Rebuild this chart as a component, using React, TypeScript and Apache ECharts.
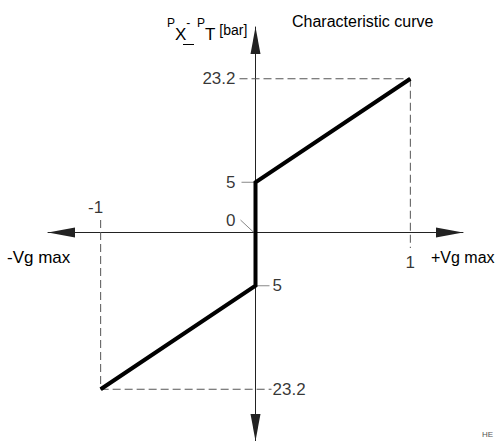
import React, { useEffect, useRef } from "react";
import * as echarts from "echarts";

// ---- data ----
const vgTicks = [-1, 1];
const vgTickLabels = ["-1", "1"];
// schematic (not to scale) pressure axis, bottom to top
const pressureLevels = ["", "-23.2", " ", "-5", "0", "5", "  ", "23.2", "   "];
const pressureTicks = ["23.2", "5", "0", "-5", "-23.2"];
const pressureTickLabels = ["23.2", "5", "0", "5", "23.2"];
const curveVg = [-1, 0, 0, 1];
const curveDp = ["-23.2", "-5", "5", "23.2"];
const vgRange = [-1.34, 1.34];

const FONT = '"Liberation Sans", Arial, Helvetica, sans-serif';
const W = 499;
const H = 441;
const GRID = { left: 48, right: 36, top: 27, bottom: -3 };

export default function App() {
  const ref = useRef<HTMLDivElement>(null);
  useEffect(() => {
    if (!ref.current) return;
    const chart = echarts.init(ref.current, null, { renderer: "svg" });
    const gridH = H - GRID.top - GRID.bottom;
    const axisLineCommon = {
      show: true,
      lineStyle: { color: "#222", width: 1 },
      symbol: ["triangle", "triangle"],
      symbolSize: [10, 27],
      symbolOffset: [13.5, -13.5],
    };

    const tickLabelData = pressureTicks.map((p, i) => {
      const v = parseFloat(p);
      return {
        value: [0, p],
        label: {
          formatter: pressureTickLabels[i],
          position: v < 0 ? "right" : "left",
          distance: v < 0 ? 17 : 20,
          offset: v === 0 ? [0, -14] : [0, 0],
        },
      };
    });
    const vgLabelData = vgTicks.map((x, i) => ({
      value: [x, "0"],
      label: {
        formatter: vgTickLabels[i],
        position: x < 0 ? "top" : "bottom",
        distance: x < 0 ? 18 : 20,
        offset: x < 0 ? [-5, 0] : [0, 0],
      },
    }));

    const txt = (text: string, x: number, y: number, size: number, fill = "#000") => ({
      type: "text",
      x,
      y,
      silent: true,
      style: {
        text,
        fill,
        fontSize: size,
        fontFamily: FONT,
        verticalAlign: "middle",
        align: "left",
      },
    });

    chart.setOption({
      animation: false,
      backgroundColor: "#fff",
      grid: { ...GRID, containLabel: false },
      xAxis: {
        type: "value",
        min: vgRange[0],
        max: vgRange[1],
        position: "bottom",
        offset: -gridH / 2,
        axisLine: { ...axisLineCommon, onZero: false },
        axisTick: { show: false },
        axisLabel: { show: false },
        splitLine: { show: false },
      },
      yAxis: {
        type: "category",
        data: pressureLevels,
        boundaryGap: false,
        axisLine: { ...axisLineCommon, onZero: true },
        axisTick: { show: false },
        axisLabel: { show: false },
        splitLine: { show: false },
      },
      series: [
        {
          type: "custom",
          silent: true,
          z: 1,
          data: [[0, "0"]],
          renderItem: (_params: any, api: any) => {
            const c = (x: any, y: any) => api.coord([x, y]);
            const o = c(0, "0");
            const topR = c(curveVg[3], curveDp[3]);
            const botL = c(curveVg[0], curveDp[0]);
            const up5 = c(curveVg[2], curveDp[2]);
            const dn5 = c(curveVg[1], curveDp[1]);
            const dash = { stroke: "#555", lineWidth: 1, lineDash: [8, 4], fill: "none" };
            const thin = { stroke: "#888", lineWidth: 1, fill: "none" };
            const ln = (x1: number, y1: number, x2: number, y2: number, style: any) => ({
              type: "line",
              shape: { x1, y1, x2, y2 },
              style,
            });
            return {
              type: "group",
              children: [
                ln(o[0] - 16, topR[1], topR[0], topR[1], dash),
                ln(topR[0], topR[1], topR[0], o[1] + 14, dash),
                ln(botL[0], botL[1], o[0] + 16, botL[1], dash),
                ln(botL[0], o[1] - 14, botL[0], botL[1], dash),
                ln(o[0] - 14, up5[1], o[0], up5[1], thin),
                ln(o[0], dn5[1], o[0] + 14, dn5[1], thin),
                ln(o[0] - 15, o[1] - 14, o[0], o[1], thin),
              ],
            };
          },
        },
        {
          type: "line",
          z: 5,
          symbol: "none",
          silent: true,
          lineStyle: { color: "#000", width: 4, join: "miter" },
          data: curveVg.map((x, i) => [x, curveDp[i]]),
        },
        {
          type: "scatter",
          z: 6,
          silent: true,
          symbolSize: 0,
          label: { show: true, color: "#000", fontSize: 17, fontFamily: FONT },
          data: [...tickLabelData, ...vgLabelData],
        },
      ],
      graphic: [
        txt("Characteristic curve", 292, 21, 16),
        txt("-Vg max", 7, 257, 17),
        txt("+Vg max", 431, 257, 16),
        {
          type: "text",
          x: 167,
          y: 30,
          silent: true,
          style: {
            text: "{s|P}{b|X}{s|-  P}{b|T}{m| [bar]}",
            fill: "#000",
            fontFamily: FONT,
            verticalAlign: "middle",
            align: "left",
            rich: {
              s: { fontSize: 12, lineHeight: 12, verticalAlign: "top", fontFamily: FONT, fill: "#000" },
              b: { fontSize: 17, lineHeight: 17, verticalAlign: "bottom", fontFamily: FONT, fill: "#000" },
              m: { fontSize: 14, lineHeight: 26, verticalAlign: "middle", fontFamily: FONT, fill: "#000" },
            },
          },
        },
        {
          type: "line",
          silent: true,
          shape: { x1: 183, y1: 44.5, x2: 194, y2: 44.5 },
          style: { stroke: "#000", lineWidth: 1 },
        },
        txt("HE", 482, 434, 8, "#555"),
      ],
    });
    return () => chart.dispose();
  }, []);
  return (
    <div
      ref={ref}
      style={{ position: "absolute", left: 0, top: 0, width: W, height: H, background: "#fff" }}
    />
  );
}
